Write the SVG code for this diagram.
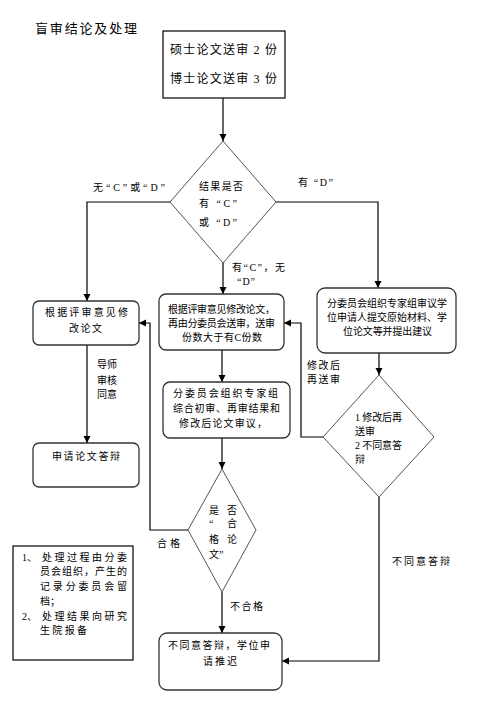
<svg xmlns="http://www.w3.org/2000/svg" width="477" height="702" viewBox="0 0 477 702">
<defs>
<marker id="arr" markerUnits="userSpaceOnUse" markerWidth="8" markerHeight="8" refX="7" refY="3.5" orient="auto">
<path d="M0,0 L7,3.5 L0,7 Z" fill="#000"/>
</marker>
<style>
text{font-family:"Liberation Serif","Noto Sans CJK SC",serif;font-size:10px;fill:#000}
.t13{font-size:13px}
.t12{font-size:12px}
.box{fill:#fff;stroke:#000;stroke-width:1.2}
.rbox{fill:#fff;stroke:#333;stroke-width:1.3}
.dia{fill:#fff;stroke:#555;stroke-width:1}
.con{fill:none;stroke:#000;stroke-width:1.2;marker-end:url(#arr)}
</style>
</defs>
<rect width="477" height="702" fill="#fff"/>
<text class="t13" x="35" y="33" textLength="102" lengthAdjust="spacing">盲审结论及处理</text>

<g id="connectors">
<path class="con" d="M223,98 V141"/>
<path class="con" d="M170,202 H87 V301"/>
<path class="con" d="M276,202 H378 V288"/>
<path class="con" d="M223,263 V294"/>
<path class="con" d="M87,345 V443"/>
<path class="con" d="M222,350 V382"/>
<path class="con" d="M222,438 V469"/>
<path class="con" d="M379,353 V375"/>
<path class="con" d="M323,437 H301 V323 H284"/>
<path class="con" d="M188,530 H150 V323 H139"/>
<path class="con" d="M222,592 V633"/>
<path class="con" d="M379,497 V661 H282"/>
</g>

<g id="n_top">
<rect class="box" x="163" y="31" width="122" height="67"/>
<text class="t12" x="170" y="54" textLength="107" lengthAdjust="spacing">硕士论文送审 2 份</text>
<text class="t12" x="170" y="83" textLength="107" lengthAdjust="spacing">博士论文送审 3 份</text>
</g>

<g id="n_d1">
<polygon class="dia" points="223,141 276,202 223,263 170,202"/>
<text x="199" y="190" textLength="44" lengthAdjust="spacing">结果是否</text>
<text x="199" y="207" textLength="38" lengthAdjust="spacing">有 “C”</text>
<text x="199" y="226" textLength="38" lengthAdjust="spacing">或 “D”</text>
</g>

<g id="labels">
<text x="93" y="191" textLength="72" lengthAdjust="spacing">无“C”或“D”</text>
<text x="298" y="186" textLength="35" lengthAdjust="spacing">有 “D”</text>
<text x="232" y="271" textLength="53" lengthAdjust="spacing">有“C”，无</text>
<text x="237" y="285" textLength="18" lengthAdjust="spacing">“D”</text>
<text x="97" y="368" textLength="20" lengthAdjust="spacing">导师</text>
<text x="97" y="384" textLength="20" lengthAdjust="spacing">审核</text>
<text x="97" y="398" textLength="20" lengthAdjust="spacing">同意</text>
<text x="307" y="369" textLength="33" lengthAdjust="spacing">修改后</text>
<text x="307" y="383" textLength="33" lengthAdjust="spacing">再送审</text>
<text x="157" y="547" textLength="23" lengthAdjust="spacing">合格</text>
<text x="230" y="610" textLength="33" lengthAdjust="spacing">不合格</text>
<text x="392" y="565" textLength="58" lengthAdjust="spacing">不同意答辩</text>
</g>

<g id="n_left1">
<rect class="rbox" x="33" y="301" width="106" height="44" rx="6"/>
<text x="45" y="316" textLength="83" lengthAdjust="spacing">根据评审意见修</text>
<text x="69" y="332" textLength="33" lengthAdjust="spacing">改论文</text>
</g>

<g id="n_left2">
<rect class="rbox" x="33" y="443" width="106" height="44" rx="6"/>
<text x="52" y="460" textLength="68" lengthAdjust="spacing">申请论文答辩</text>
</g>

<g id="n_mid1">
<rect class="rbox" x="159" y="294" width="125" height="56" rx="7"/>
<text x="168" y="313" textLength="107" lengthAdjust="spacing">根据评审意见修改论文，</text>
<text x="168" y="327" textLength="107" lengthAdjust="spacing">再由分委员会送审，送审</text>
<text x="182" y="341" textLength="80" lengthAdjust="spacing">份数大于有C份数</text>
</g>

<g id="n_mid2">
<rect class="rbox" x="163" y="382" width="127" height="56" rx="7"/>
<text x="173" y="397" textLength="105" lengthAdjust="spacing">分委员会组织专家组</text>
<text x="173" y="412" textLength="107" lengthAdjust="spacing">综合初审、再审结果和</text>
<text x="179" y="427" textLength="88" lengthAdjust="spacing">修改后论文审议，</text>
</g>

<g id="n_right">
<rect class="rbox" x="317" y="288" width="139" height="65" rx="8"/>
<text x="327" y="307" textLength="120" lengthAdjust="spacing">分委员会组织专家组审议学</text>
<text x="327" y="321" textLength="120" lengthAdjust="spacing">位申请人提交原始材料、学</text>
<text x="343" y="335" textLength="89" lengthAdjust="spacing">位论文等并提出建议</text>
</g>

<g id="n_d2">
<polygon class="dia" points="379,375 434,437 379,497 323,437"/>
<text x="355" y="421" textLength="47" lengthAdjust="spacing">1 修改后再</text>
<text x="355" y="435" textLength="20" lengthAdjust="spacing">送审</text>
<text x="355" y="449" textLength="47" lengthAdjust="spacing">2 不同意答</text>
<text x="355" y="463">辩</text>
</g>

<g id="n_d3">
<polygon class="dia" points="222,469 256,530 222,592 188,530"/>
<text x="209" y="514">是</text>
<text x="227" y="514">否</text>
<text x="209" y="527">“</text>
<text x="227" y="527">合</text>
<text x="209" y="543">格</text>
<text x="227" y="543">论</text>
<text x="209" y="558">文”</text>
</g>

<g id="n_bottom">
<rect class="rbox" x="159" y="633" width="123" height="57" rx="8"/>
<text x="168" y="649" textLength="102" lengthAdjust="spacing">不同意答辩，学位申</text>
<text x="203" y="665" textLength="34" lengthAdjust="spacing">请推迟</text>
</g>

<g id="n_notes">
<rect class="box" x="13" y="546" width="120" height="114"/>
<text x="22" y="561">1、</text>
<text x="42" y="561" textLength="85" lengthAdjust="spacing">处理过程由分委</text>
<text x="40" y="575" textLength="87" lengthAdjust="spacing">员会组织，产生的</text>
<text x="40" y="590" textLength="87" lengthAdjust="spacing">记录分委员会留</text>
<text x="40" y="605">档；</text>
<text x="22" y="620">2、</text>
<text x="42" y="620" textLength="85" lengthAdjust="spacing">处理结果向研究</text>
<text x="40" y="634" textLength="47" lengthAdjust="spacing">生院报备</text>
</g>
</svg>
